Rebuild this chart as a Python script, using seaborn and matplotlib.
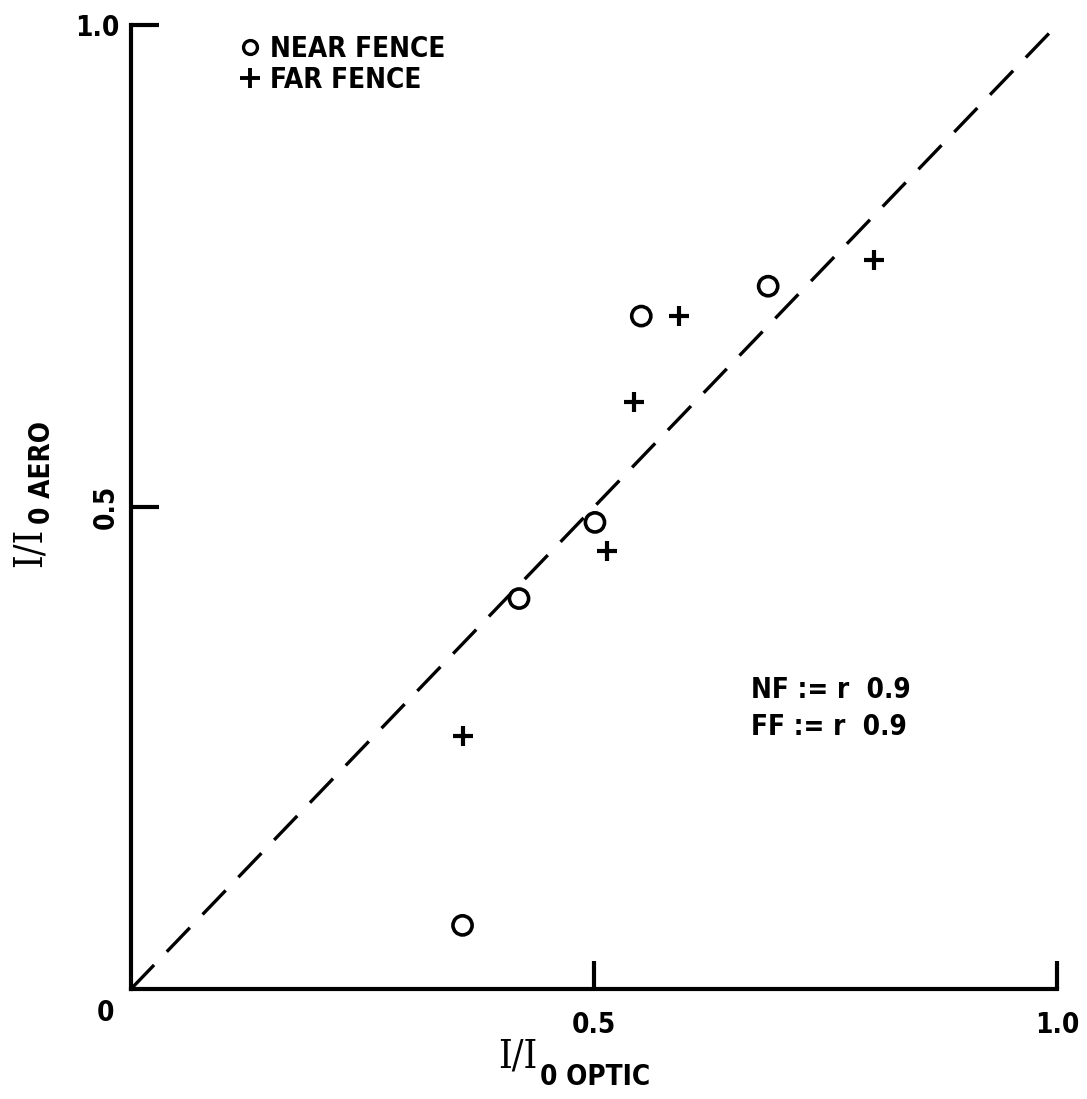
import matplotlib
matplotlib.use("Agg")
import matplotlib.pyplot as plt
import seaborn as sns
import pandas as pd
from matplotlib.lines import Line2D

# Data
near_x = [0.358, 0.419, 0.501, 0.551, 0.688]
near_y = [0.066, 0.405, 0.484, 0.698, 0.729]
far_x = [0.358, 0.514, 0.543, 0.592, 0.802]
far_y = [0.262, 0.454, 0.609, 0.698, 0.756]
diag = [0.0, 1.0]

near = pd.DataFrame({"x": near_x, "y": near_y})
far = pd.DataFrame({"x": far_x, "y": far_y})

sns.set_style("white")
plt.rcParams['font.family'] = ['DejaVu Sans']
plt.rcParams['font.stretch'] = 'condensed'
plt.rcParams['font.weight'] = 'bold'
for k in ['text.color', 'axes.labelcolor', 'xtick.color', 'ytick.color']:
    plt.rcParams[k] = 'black'

fs = 20

fig = plt.figure(figsize=(10.87, 10.99), dpi=100)
ax = fig.add_axes([0.1205, 0.1001, 0.852, 0.8772])

sns.lineplot(x=diag, y=diag, ax=ax, color="black", linewidth=2.4)
ax.lines[0].set_dashes((10, 5.5))
sns.scatterplot(data=near, x="x", y="y", ax=ax, marker="o", s=190,
                facecolor="none", edgecolor="black", linewidth=2.6)
sns.scatterplot(data=far, x="x", y="y", ax=ax, marker="+", s=200,
                color="black", linewidth=3)

ax.set_xlim(0, 1.0)
ax.set_ylim(0, 1.0)
sns.despine(ax=ax)
for s in ["left", "bottom"]:
    ax.spines[s].set_linewidth(3)
    ax.spines[s].set_color("black")

ax.set_xticks([0.5, 1.0])
ax.set_yticks([0.5, 1.0])
ax.set_xticklabels(["0.5", "1.0"], fontsize=fs, fontweight="bold")
ax.set_yticklabels(["0.5", "1.0"], fontsize=fs, fontweight="bold")
ax.get_yticklabels()[0].set_rotation(90)
ax.get_yticklabels()[0].set_va("center")
ax.tick_params(axis="both", direction="in", length=20, width=3, color="black",
               bottom=True, left=True)
ax.tick_params(axis="x", pad=16)
ax.tick_params(axis="y", pad=8)
ax.text(-0.028, -0.025, "0", transform=ax.transAxes, fontsize=fs,
        fontweight="bold", ha="center", va="center")

ax.set_xlabel("")
ax.set_ylabel("")
# axis labels: serif I/I with subscript 0
fig.text(0.494, 0.021, "I/I", family="DejaVu Serif", fontsize=28,
         fontweight="normal", ha="right", va="bottom")
fig.text(0.497, 0.007, "0 OPTIC", fontsize=fs, fontweight="bold",
         ha="left", va="bottom")
fig.text(0.011, 0.520, "I/I", family="DejaVu Serif", fontsize=28,
         fontweight="normal", rotation=90, ha="left", va="top")
fig.text(0.026, 0.523, "0 AERO", fontsize=fs, fontweight="bold",
         rotation=90, ha="left", va="bottom")

handles = [
    Line2D([], [], marker="o", linestyle="none", markersize=10,
           markerfacecolor="none", markeredgecolor="black", markeredgewidth=2.4),
    Line2D([], [], marker="+", linestyle="none", markersize=15,
           color="black", markeredgewidth=2.8),
]
ax.legend(handles, ["NEAR FENCE", "FAR FENCE"], loc="upper left",
          bbox_to_anchor=(0.09, 1.016), frameon=False, handlelength=0.8,
          handletextpad=0.3, labelspacing=0.12,
          prop={"size": fs, "weight": "bold", "stretch": "condensed"})

ax.text(0.67, 0.31, "NF := r  0.9", transform=ax.transAxes, fontsize=fs,
        fontweight="bold", ha="left", va="center")
ax.text(0.67, 0.272, "FF := r  0.9", transform=ax.transAxes, fontsize=fs,
        fontweight="bold", ha="left", va="center")

fig.savefig("out.png", dpi=100)
